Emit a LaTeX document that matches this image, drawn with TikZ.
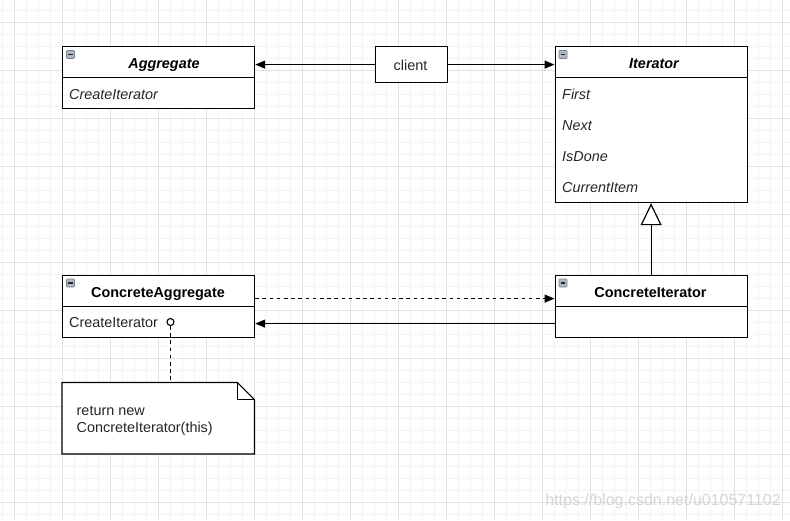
\documentclass[tikz,border=0pt]{standalone}
\usepackage{fontspec}
\setmainfont{Liberation Sans}
\usetikzlibrary{arrows.meta,calc}
\definecolor{gridminor}{HTML}{F4F4F4}
\definecolor{gridmajor}{HTML}{E2E2E2}
\definecolor{iconfill}{HTML}{AEB9C5}
\definecolor{iconline}{HTML}{77838F}
\definecolor{wmark}{HTML}{D6D6D6}
\newcommand{\umlicon}[2]{%
  \draw[draw=iconline,fill=iconfill,line width=0.6pt,rounded corners=0.8pt] (#1,#2) rectangle ++(8,8);
  \draw[line width=1.4pt,black!85] ($(#1,#2)+(1.6,4)$) -- ++(4.8,0);}
\begin{document}
\begin{tikzpicture}[x=1pt,y=-1pt,
  base/.style={font=\fontsize{14.4}{17}\selectfont},
  box/.style={base,draw=black,line width=1.2pt,fill=white,minimum width=192pt,inner sep=0pt,anchor=north west},
  hdr/.style={box,minimum height=31pt},
  abstitle/.style={anchor=base,inner sep=0pt,font=\fontsize{14.4}{17}\selectfont\bfseries\itshape},
  contitle/.style={anchor=base,inner sep=0pt,font=\fontsize{14.4}{17}\selectfont\bfseries},
  row/.style={base,anchor=base west,inner sep=0pt,text=black!85},
  irow/.style={row,font=\fontsize{14.4}{17}\selectfont\itshape},
  arr/.style={line width=1.2pt,-{Triangle[length=10pt,width=8pt]}},
  gen/.style={line width=1.2pt,-{Triangle[open,length=22pt,width=21pt,fill=white]}},
  dashedarr/.style={arr,dash pattern=on 3.6pt off 3.6pt},
]
\useasboundingbox (0,0) rectangle (790,520);
\fill[white] (0,0) rectangle (790,520);
% grid
\foreach \x in {2,14,...,790} \draw[gridminor,line width=0.8pt] (\x,0) -- (\x,520);
\foreach \y in {10,22,...,520} \draw[gridminor,line width=0.8pt] (0,\y) -- (790,\y);
\foreach \x in {14,62,...,790} \draw[gridmajor,line width=0.8pt] (\x,0) -- (\x,520);
\foreach \y in {22,70,...,520} \draw[gridmajor,line width=0.8pt] (0,\y) -- (790,\y);

% Aggregate
\node[hdr] (aggH) at (62,46) {};
\node[box,minimum height=31pt] (aggB) at (62,77) {};
\umlicon{66.5}{50.5}
\node[abstitle] (aggT) at (164,68.5) {Aggregate};
\node[irow] (aggR1) at (69,99) {CreateIterator};

% client
\node[box,minimum width=72pt,minimum height=36pt] (client) at (374.5,46) {};
\node[row,anchor=base] (clientT) at (410.5,70) {client};

% Iterator
\node[hdr] (itH) at (554.5,46) {};
\node[box,minimum height=125pt] (itB) at (554.5,77) {};
\umlicon{559}{50.5}
\node[abstitle] (itT) at (654,68.5) {Iterator};
\node[irow] (itR1) at (562,99) {First};
\node[irow] (itR2) at (562,130) {Next};
\node[irow] (itR3) at (562,161) {IsDone};
\node[irow] (itR4) at (562,192) {CurrentItem};

% ConcreteAggregate
\node[hdr] (caH) at (62,274.5) {};
\node[box,minimum height=31pt] (caB) at (62,305.5) {};
\umlicon{66.5}{279}
\node[contitle] (caT) at (158,297.3) {ConcreteAggregate};
\node[row] (caR1) at (69,327.3) {CreateIterator};

% ConcreteIterator
\node[hdr] (ciH) at (554.5,274.5) {};
\node[box,minimum height=31pt] (ciB) at (554.5,305.5) {};
\umlicon{559}{279}
\node[contitle] (ciT) at (650.5,297) {ConcreteIterator};

% note
\node[minimum width=192pt,minimum height=71pt,inner sep=0pt,anchor=north west] (note) at (62,382.5) {};
\draw[line width=1.2pt,fill=white] (note.north west) -- ([xshift=-17pt]note.north east) -- ([yshift=-17pt]note.north east) -- (note.south east) -- (note.south west) -- cycle;
\draw[line width=1.2pt] ([xshift=-17pt]note.north east) -- ([xshift=-17pt,yshift=-17pt]note.north east) -- ([yshift=-17pt]note.north east);
\node[row] (notetxt1) at (76.5,415) {return new};
\node[row] (notetxt2) at (76.5,432) {ConcreteIterator(this)};

% connectors
\draw[arr] (client.west) -- (client.west -| aggH.east);
\draw[arr] (client.east) -- (client.east -| itH.west);
\draw[gen] (ciH.north) -- (ciH.north |- itB.south);
\draw[dashedarr] ([yshift=-8pt]caH.east) -- ([yshift=-8pt]ciH.west);
\draw[arr] ([yshift=-2pt]ciB.west) -- ([yshift=-2pt]caB.east);
\node[draw=black,line width=1.1pt,fill=white,circle,minimum size=7pt,inner sep=0pt] (dot) at (170.5,322) {};
\draw[line width=1.2pt,dash pattern=on 3.6pt off 3.6pt] (dot.south) -- (dot.south |- note.north);

% watermark
\node[font=\fontsize{16}{18}\selectfont,text=wmark,anchor=east,inner sep=0pt] (wm) at (781,501.5) {https://blog.csdn.net/u010571102};
\end{tikzpicture}
\end{document}
